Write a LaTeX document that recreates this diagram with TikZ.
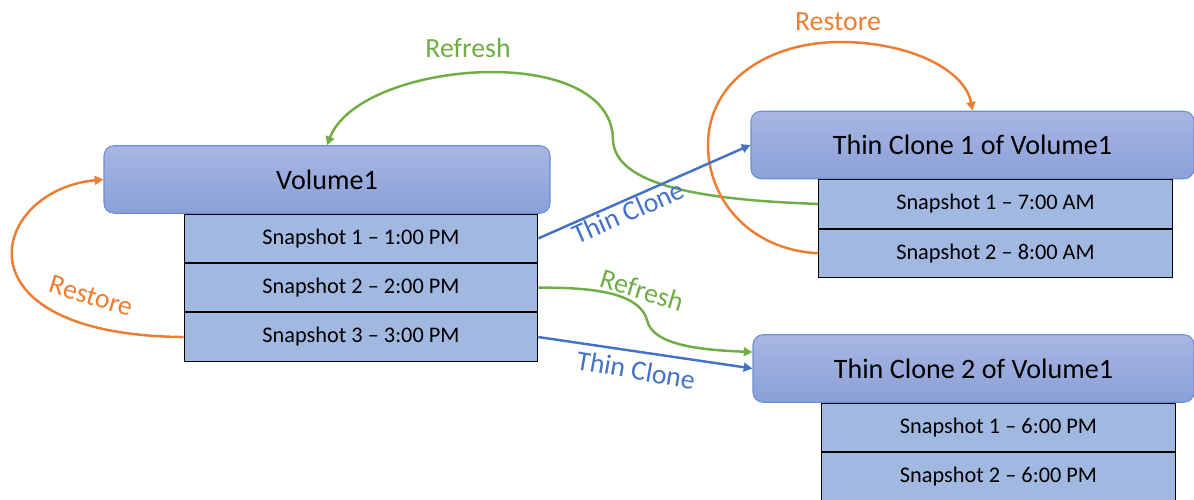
\documentclass[tikz,border=0pt]{standalone}
\usepackage{fontspec}
\setmainfont{Carlito}
\usetikzlibrary{arrows.meta,positioning}
\definecolor{hdrtop}{RGB}{168,182,226}
\definecolor{hdrbot}{RGB}{138,160,216}
\definecolor{hdrline}{RGB}{110,142,212}
\definecolor{snapfill}{RGB}{161,184,225}
\definecolor{restorec}{RGB}{237,125,49}
\definecolor{refreshc}{RGB}{112,173,71}
\definecolor{clonec}{RGB}{68,114,196}
\tikzset{>={Triangle[length=5pt,width=5pt]}}

\begin{document}
\begin{tikzpicture}[
    hdr/.style={draw=hdrline,line width=0.6pt,rounded corners=0.2cm,top color=hdrtop,bottom color=hdrbot,
      minimum height=1.35cm,inner sep=0pt,font=\fontsize{16}{19}\selectfont},
    snap/.style={draw=black,line width=0.6pt,fill=snapfill,minimum width=7.07cm,minimum height=0.965cm,
      inner sep=0pt,font=\fontsize{12.7}{15}\selectfont},
    lbl/.style={font=\fontsize{15.8}{19}\selectfont,inner sep=0pt},
    restore/.style={draw=restorec,line width=1.4pt,->},
    refresh/.style={draw=refreshc,line width=1.4pt,->},
    thinclone/.style={draw=clonec,line width=1.4pt,->}
  ]
    \useasboundingbox (0,0) rectangle (23.88,-10);

    % source volume and its snapshots
    \node [hdr,minimum width=8.92cm] (v1) at (6.54,-3.59) {Volume1};
    \node [snap,below=0pt of v1,xshift=0.68cm] (s1) {Snapshot 1 – 1:00 PM};
    \node [snap,below=0pt of s1] (s2) {Snapshot 2 – 2:00 PM};
    \node [snap,below=0pt of s2] (s3) {Snapshot 3 – 3:00 PM};

    % first clone
    \node [hdr,minimum width=8.86cm] (c1) at (19.45,-2.9) {Thin Clone 1 of Volume1};
    \node [snap,below=0pt of c1,xshift=0.46cm] (c1s1) {Snapshot 1 – 7:00 AM};
    \node [snap,below=0pt of c1s1] (c1s2) {Snapshot 2 – 8:00 AM};

    % second clone
    \node [hdr,minimum width=8.82cm] (c2) at (19.47,-7.37) {Thin Clone 2 of Volume1};
    \node [snap,below=0pt of c2,xshift=0.5cm] (c2s1) {Snapshot 1 – 6:00 PM};
    \node [snap,below=0pt of c2s1] (c2s2) {Snapshot 2 – 6:00 PM};

    % restore / refresh / clone arrows
    \draw [restore] (s3.west) .. controls (-1.0,-6.7) and (-0.2,-3.8) .. (v1.west);
    \node [lbl,text=restorec,rotate=-17] (lrestv) at (1.82,-5.92) {Restore};

    \draw [refresh] (c1s1.west) .. controls (14.0,-4.0) and (12.3,-3.7) .. (12.26,-2.8)
      .. controls (12.24,-0.8) and (7.2,-1.2) .. (v1.north);
    \node [lbl,text=refreshc] (lrefv) at (9.36,-0.96) {Refresh};

    \draw [restore] (c1s2.west) .. controls (15.0,-5.0) and (14.16,-4.0) .. (14.16,-2.9)
      .. controls (14.16,-1.6) and (15.4,-0.84) .. (16.8,-0.84)
      .. controls (18.2,-0.84) and (19.3,-1.4) .. (c1.north);
    \node [lbl,text=restorec] (lrestc) at (16.76,-0.44) {Restore};

    \draw [thinclone] (s1.east) -- (c1.west);
    \node [lbl,text=clonec,rotate=23.6] (lclone1) at (12.56,-4.24) {Thin Clone};

    \draw [refresh] (s2.east) .. controls (12.0,-5.74) and (12.8,-5.9) .. (12.94,-6.4)
      .. controls (13.04,-6.9) and (14.0,-7.0) .. ([yshift=0.33cm]c2.west);
    \node [lbl,text=refreshc,rotate=-17] (lrefc) at (12.84,-5.8) {Refresh};

    \draw [thinclone] (s3.east) -- (c2.west);
    \node [lbl,text=clonec,rotate=-10] (lclone2) at (12.72,-7.4) {Thin Clone};
  \end{tikzpicture}
\end{document}
